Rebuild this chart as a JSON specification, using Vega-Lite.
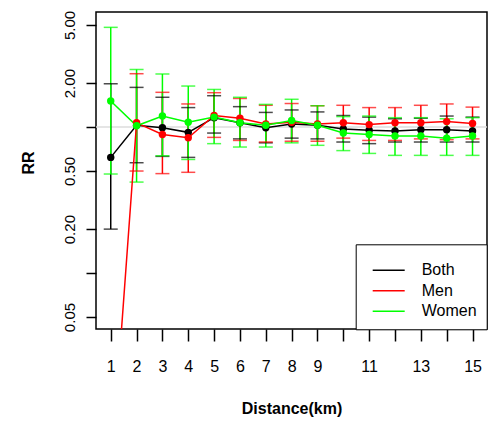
{
  "$schema": "https://vega.github.io/schema/vega-lite/v6.json",
  "width": 391,
  "height": 317,
  "autosize": "none",
  "padding": {"left": 96, "top": 12, "right": 12, "bottom": 96},
  "background": "white",
  "config": {
    "font": "Liberation Sans",
    "view": {"stroke": "black", "strokeWidth": 1.5},
    "axis": {"grid": false, "domain": false, "tickColor": "black", "tickWidth": 1.5, "labelColor": "black", "titleColor": "black", "labelFont": "Liberation Sans", "titleFont": "Liberation Sans", "labelFontSize": 15, "titleFontSize": 16, "titleFontWeight": "bold"}
  },
  "data": {"values": [
    {"d": 1, "g": "Both", "rr": 0.62, "lo": 0.20, "hi": 1.98},
    {"d": 2, "g": "Both", "rr": 1.03, "lo": 0.57, "hi": 1.87},
    {"d": 3, "g": "Both", "rr": 0.99, "lo": 0.63, "hi": 1.60},
    {"d": 4, "g": "Both", "rr": 0.92, "lo": 0.62, "hi": 1.36},
    {"d": 5, "g": "Both", "rr": 1.16, "lo": 0.91, "hi": 1.64},
    {"d": 6, "g": "Both", "rr": 1.07, "lo": 0.83, "hi": 1.38},
    {"d": 7, "g": "Both", "rr": 0.99, "lo": 0.78, "hi": 1.26},
    {"d": 8, "g": "Both", "rr": 1.05, "lo": 0.84, "hi": 1.31},
    {"d": 9, "g": "Both", "rr": 1.03, "lo": 0.83, "hi": 1.27},
    {"d": 10, "g": "Both", "rr": 0.97, "lo": 0.79, "hi": 1.20},
    {"d": 11, "g": "Both", "rr": 0.95, "lo": 0.77, "hi": 1.17},
    {"d": 12, "g": "Both", "rr": 0.94, "lo": 0.79, "hi": 1.14},
    {"d": 13, "g": "Both", "rr": 0.96, "lo": 0.79, "hi": 1.15},
    {"d": 14, "g": "Both", "rr": 0.96, "lo": 0.79, "hi": 1.19},
    {"d": 15, "g": "Both", "rr": 0.94, "lo": 0.79, "hi": 1.17},
    {"d": 1, "g": "Men", "rr": 0.004, "lo": 0.0005, "hi": 0.03},
    {"d": 2, "g": "Men", "rr": 1.07, "lo": 0.50, "hi": 2.32},
    {"d": 3, "g": "Men", "rr": 0.89, "lo": 0.48, "hi": 1.73},
    {"d": 4, "g": "Men", "rr": 0.845, "lo": 0.49, "hi": 1.44},
    {"d": 5, "g": "Men", "rr": 1.20, "lo": 0.85, "hi": 1.72},
    {"d": 6, "g": "Men", "rr": 1.15, "lo": 0.81, "hi": 1.57},
    {"d": 7, "g": "Men", "rr": 1.05, "lo": 0.79, "hi": 1.41},
    {"d": 8, "g": "Men", "rr": 1.08, "lo": 0.80, "hi": 1.45},
    {"d": 9, "g": "Men", "rr": 1.05, "lo": 0.80, "hi": 1.40},
    {"d": 10, "g": "Men", "rr": 1.07, "lo": 0.84, "hi": 1.41},
    {"d": 11, "g": "Men", "rr": 1.04, "lo": 0.81, "hi": 1.36},
    {"d": 12, "g": "Men", "rr": 1.07, "lo": 0.81, "hi": 1.36},
    {"d": 13, "g": "Men", "rr": 1.07, "lo": 0.83, "hi": 1.41},
    {"d": 14, "g": "Men", "rr": 1.09, "lo": 0.82, "hi": 1.44},
    {"d": 15, "g": "Men", "rr": 1.06, "lo": 0.83, "hi": 1.37},
    {"d": 1, "g": "Women", "rr": 1.51, "lo": 0.477, "hi": 4.82},
    {"d": 2, "g": "Women", "rr": 1.02, "lo": 0.42, "hi": 2.48},
    {"d": 3, "g": "Women", "rr": 1.19, "lo": 0.636, "hi": 2.31},
    {"d": 4, "g": "Women", "rr": 1.08, "lo": 0.60, "hi": 1.91},
    {"d": 5, "g": "Women", "rr": 1.17, "lo": 0.77, "hi": 1.81},
    {"d": 6, "g": "Women", "rr": 1.07, "lo": 0.73, "hi": 1.60},
    {"d": 7, "g": "Women", "rr": 1.03, "lo": 0.73, "hi": 1.43},
    {"d": 8, "g": "Women", "rr": 1.11, "lo": 0.78, "hi": 1.55},
    {"d": 9, "g": "Women", "rr": 1.03, "lo": 0.75, "hi": 1.40},
    {"d": 10, "g": "Women", "rr": 0.91, "lo": 0.69, "hi": 1.18},
    {"d": 11, "g": "Women", "rr": 0.89, "lo": 0.66, "hi": 1.19},
    {"d": 12, "g": "Women", "rr": 0.87, "lo": 0.64, "hi": 1.16},
    {"d": 13, "g": "Women", "rr": 0.87, "lo": 0.64, "hi": 1.16},
    {"d": 14, "g": "Women", "rr": 0.84, "lo": 0.64, "hi": 1.14},
    {"d": 15, "g": "Women", "rr": 0.87, "lo": 0.64, "hi": 1.16}
  ]},
  "encoding": {
    "x": {"field": "d", "type": "quantitative",
      "scale": {"domain": [0.43, 15.56], "nice": false, "zero": false},
      "axis": {"values": [1,2,3,4,5,6,7,8,9,10,11,12,13,14,15],
        "labelExpr": "datum.value == 10 || datum.value == 12 || datum.value == 14 ? '' : datum.label",
        "labelAngle": 0, "tickSize": 12, "labelPadding": 17, "labelFontSize": 16,
        "title": "Distance(km)", "titleY": 79, "titleBaseline": "middle"}},
    "color": {"field": "g", "type": "nominal",
      "scale": {"domain": ["Both", "Men", "Women"], "range": ["#000000", "#ff0000", "#00ff00"]},
      "legend": null}
  },
  "resolve": {"legend": {"color": "independent"}},
  "layer": [
    {
      "data": {"values": [{"ref": 1}]},
      "mark": {"type": "rule", "color": "#dddddd", "strokeWidth": 1.5},
      "encoding": {
        "x": null,
        "color": null,
        "y": {"field": "ref", "type": "quantitative",
          "scale": {"type": "log", "domain": [0.0414, 6.14], "nice": false},
          "axis": {"values": [0.05, 0.1, 0.2, 0.5, 1, 2, 5],
            "labelExpr": "datum.value == 0.1 || datum.value == 1 ? '' : format(datum.value, '.2f')",
            "labelAngle": -90, "labelAlign": "center", "labelBaseline": "bottom",
            "tickSize": 10, "labelPadding": 9, "labelFontSize": 15,
            "title": "RR", "titleX": -68, "titleY": 150.5, "titleAngle": -90,
            "titleAlign": "center", "titleBaseline": "middle"}}
      }
    },
    {
      "mark": {"type": "rule", "strokeWidth": 1.5, "clip": true},
      "encoding": {
        "y": {"field": "lo", "type": "quantitative", "scale": {"type": "log", "domain": [0.0414, 6.14], "nice": false}},
        "y2": {"field": "hi"}
      }
    },
    {
      "mark": {"type": "tick", "orient": "horizontal", "size": 14, "thickness": 1.5, "clip": true},
      "encoding": {
        "y": {"field": "lo", "type": "quantitative", "scale": {"type": "log", "domain": [0.0414, 6.14], "nice": false}}
      }
    },
    {
      "mark": {"type": "tick", "orient": "horizontal", "size": 14, "thickness": 1.5, "clip": true},
      "encoding": {
        "y": {"field": "hi", "type": "quantitative", "scale": {"type": "log", "domain": [0.0414, 6.14], "nice": false}}
      }
    },
    {
      "mark": {"type": "line", "strokeWidth": 1.5, "clip": true},
      "encoding": {
        "y": {"field": "rr", "type": "quantitative", "scale": {"type": "log", "domain": [0.0414, 6.14], "nice": false}},
        "color": {"field": "g", "type": "nominal",
          "scale": {"domain": ["Both", "Men", "Women"], "range": ["#000000", "#ff0000", "#00ff00"]},
          "legend": {"orient": "none", "legendX": 259.7, "legendY": 232.3,
            "title": " ", "titleFontSize": 4, "titlePadding": 4,
            "symbolType": "stroke", "symbolSize": 1024, "symbolStrokeWidth": 1.5, "symbolOffset": 6,
            "clipHeight": 16,
            "labelOffset": 16, "labelFontSize": 16, "labelFont": "Liberation Sans", "labelColor": "black",
            "padding": 10, "rowPadding": 4.5, "strokeColor": "black", "fillColor": "white"}}
      }
    },
    {
      "mark": {"type": "point", "filled": true, "size": 55, "opacity": 1, "clip": true},
      "encoding": {
        "y": {"field": "rr", "type": "quantitative", "scale": {"type": "log", "domain": [0.0414, 6.14], "nice": false}}
      }
    }
  ]
}
